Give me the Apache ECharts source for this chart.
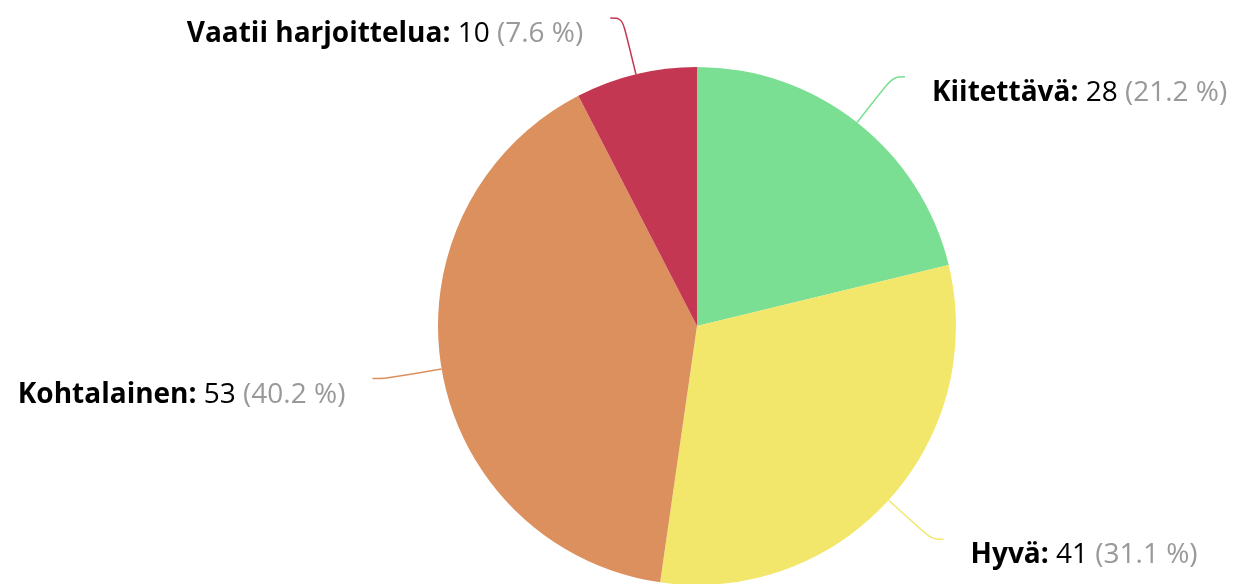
<!DOCTYPE html>
<html>
<head>
<meta charset="utf-8">
<style>
  html, body { margin: 0; padding: 0; background: #fff; }
  #chart { width: 1243px; height: 584px; }
</style>
<script src="https://cdn.jsdelivr.net/npm/echarts@6/dist/echarts.min.js"></script>
</head>
<body>
<div id="chart"></div>
<script>
const categories = ['Kiitettävä', 'Hyvä', 'Kohtalainen', 'Vaatii harjoittelua'];
const values = [28, 41, 53, 10];
const colors = ['#7ade93', '#f3e76b', '#dc905e', '#c43752'];

const total = values.reduce((a, b) => a + b, 0);

const getOption = () => {
    return {
        animation: false,
        textStyle: { fontFamily: 'Open Sans' },
        series: [
            {
                type: 'pie',
                center: [697, 326],
                radius: 259,
                startAngle: 90,
                clockwise: true,
                data: categories.map((name, i) => ({
                    name: name,
                    value: values[i],
                    itemStyle: { color: colors[i] }
                })),
                label: {
                    show: true,
                    overflow: 'none',
                    fontSize: 28,
                    color: '#000',
                    padding: [32, 22, 0, 22],
                    formatter: (p) => {
                        const pct = (p.value / total * 100).toFixed(1);
                        return '{b|' + p.name + ':} {v|' + p.value + '} {p|(' + pct + ' %)}';
                    },
                    rich: {
                        b: { fontWeight: 'bold', fontSize: 28, color: '#000', fontFamily: 'Open Sans' },
                        v: { fontSize: 28, color: '#000', fontFamily: 'Open Sans' },
                        p: { fontSize: 28, color: '#999', fontFamily: 'Open Sans' }
                    }
                },
                labelLine: {
                    show: true,
                    length: 58,
                    length2: 12,
                    smooth: 0.4,
                    lineStyle: { width: 1.5 }
                },
                emphasis: { disabled: true }
            }
        ]
    };
};

const initCharts = () => {
    const chart = echarts.init(document.getElementById('chart'));
    chart.setOption(getOption());
};

window.addEventListener('load', () => {
    initCharts();
});
</script>
</body>
</html>
